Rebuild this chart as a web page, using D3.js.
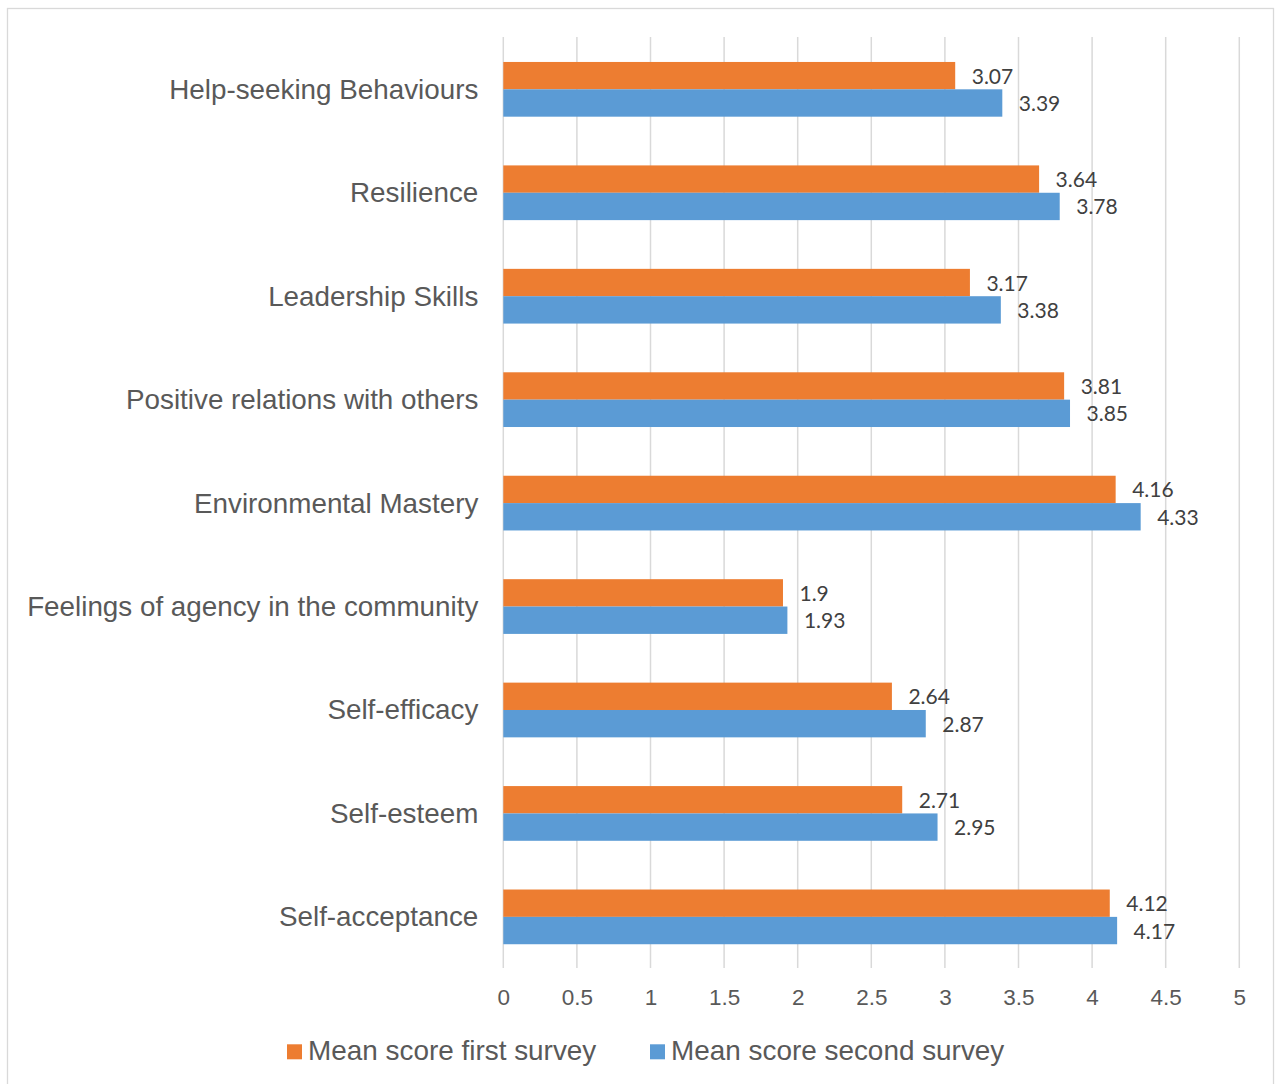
<!DOCTYPE html>
<html>
<head>
<meta charset="utf-8">
<script src="https://cdn.jsdelivr.net/npm/d3@7"></script>
<style>
  html, body { margin: 0; padding: 0; background: #fff; }
  svg { display: block; }
</style>
</head>
<body>
<svg id="chart" width="1276" height="1084"></svg>
<script>
const categories = [
  "Help-seeking Behaviours",
  "Resilience",
  "Leadership Skills",
  "Positive relations with others",
  "Environmental Mastery",
  "Feelings of agency in the community",
  "Self-efficacy",
  "Self-esteem",
  "Self-acceptance"
];
const firstSurvey  = [3.07, 3.64, 3.17, 3.81, 4.16, 1.9, 2.64, 2.71, 4.12];
const secondSurvey = [3.39, 3.78, 3.38, 3.85, 4.33, 1.93, 2.87, 2.95, 4.17];
const seriesNames = ["Mean score first survey", "Mean score second survey"];
const seriesColors = ["#ED7D31", "#5B9BD5"];
const xTicks = [0, 0.5, 1, 1.5, 2, 2.5, 3, 3.5, 4, 4.5, 5];

const svg = d3.select("#chart");

// chart frame
svg.append("rect")
  .attr("x", 7.5).attr("y", 8.5)
  .attr("width", 1266).attr("height", 1100)
  .attr("fill", "#fff").attr("stroke", "#d9d9d9").attr("stroke-width", 1.3);

const plot = { left: 503.3, right: 1239.3, top: 37.6, bottom: 968.6 };

const x = d3.scaleLinear().domain([0, 5]).range([plot.left, plot.right]);
const y = d3.scaleBand().domain(categories)
  .range([plot.top, plot.bottom])
  .paddingInner(0.471).paddingOuter(0.2355);
const ySub = d3.scaleBand().domain([0, 1]).range([0, y.bandwidth()]);

// gridlines
svg.append("g").selectAll("line").data(xTicks).join("line")
  .attr("x1", d => x(d)).attr("x2", d => x(d))
  .attr("y1", 37).attr("y2", 968)
  .attr("stroke", "#d9d9d9").attr("stroke-width", 1.5);

// x axis tick labels
const xAxis = d3.axisBottom(x).tickValues(xTicks).tickSize(0).tickPadding(0)
  .tickFormat(d => String(d));
const gx = svg.append("g").attr("transform", `translate(0,968)`).call(xAxis);
gx.select(".domain").remove();
gx.selectAll("text")
  .attr("y", 37).attr("dy", null)
  .attr("fill", "#595959")
  .style("font-family", "'Liberation Sans', Arial, sans-serif")
  .style("font-size", "22.5px");

// y axis category labels
const yAxis = d3.axisLeft(y).tickSize(0).tickPadding(25);
const gy = svg.append("g").attr("transform", `translate(${plot.left},0)`).call(yAxis);
gy.select(".domain").remove();
gy.selectAll("text")
  .attr("dy", "0.34em")
  .attr("fill", "#595959")
  .style("font-family", "'Liberation Sans', Arial, sans-serif")
  .style("font-size", "27.8px");

// bars
const series = [firstSurvey, secondSurvey];
series.forEach((vals, si) => {
  const g = svg.append("g");
  g.selectAll("rect").data(vals).join("rect")
    .attr("x", x(0))
    .attr("y", (d, i) => y(categories[i]) + ySub(si))
    .attr("width", d => x(d) - x(0))
    .attr("height", ySub.bandwidth())
    .attr("fill", seriesColors[si]);
  g.selectAll("text").data(vals).join("text")
    .attr("x", d => x(d) + 16.5)
    .attr("y", (d, i) => y(categories[i]) + ySub(si) + ySub.bandwidth() / 2)
    .attr("dy", "0.38em")
    .attr("fill", "#404040")
    .style("font-family", "Lato, 'Open Sans', sans-serif")
    .style("font-size", "21px")
    .text(d => String(d));
});

// legend
const legendItems = [
  { name: seriesNames[0], color: seriesColors[0], x: 287 },
  { name: seriesNames[1], color: seriesColors[1], x: 650 }
];
const lg = svg.append("g");
legendItems.forEach(item => {
  lg.append("rect")
    .attr("x", item.x).attr("y", 1044.3)
    .attr("width", 15).attr("height", 15)
    .attr("fill", item.color);
  lg.append("text")
    .attr("x", item.x + 21).attr("y", 1059.5)
    .attr("fill", "#595959")
    .style("font-family", "'Liberation Sans', Arial, sans-serif")
    .style("font-size", "27.9px")
    .text(item.name);
});
</script>
</body>
</html>
